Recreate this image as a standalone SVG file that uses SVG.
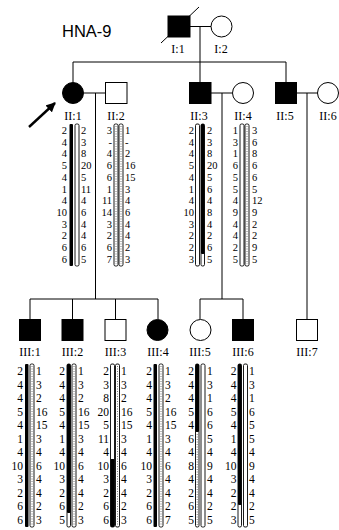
<svg xmlns="http://www.w3.org/2000/svg" width="339" height="530" viewBox="0 0 339 530">
<style>
.ln{stroke:#000;stroke-width:1;fill:none}
.aff{fill:#000;stroke:#000;stroke-width:1}
.un{fill:#fff;stroke:#000;stroke-width:1}
.lb{font-family:"Liberation Serif",serif;font-size:12px;text-anchor:middle;fill:#000}
.n{font-family:"Liberation Serif",serif;font-size:10.5px;fill:#000}
.m{font-family:"Liberation Serif",serif;font-size:11.5px;fill:#000}
.e{text-anchor:end}
.s{text-anchor:start}
.blk{fill:#000}
.wht{fill:#fff;stroke:#000;stroke-width:0.9}
.dot{stroke:#777;stroke-width:1;stroke-dasharray:1 1.5;fill:none}
.ttl{font-family:"Liberation Sans",Arial,sans-serif;font-size:16.5px;fill:#000}
</style>
<defs>
<marker id="ah" viewBox="0 0 10 10" refX="9" refY="5" markerWidth="4" markerHeight="4" orient="auto" markerUnits="strokeWidth"><path d="M0,0 L10,5 L0,10 z" fill="#000"/></marker>
</defs>
<text class="ttl" x="62" y="37">HNA-9</text>
<g id="connectors">
<line class="ln" x1="190" y1="26.5" x2="211" y2="26.5"/>
<line class="ln" x1="200" y1="26.5" x2="200" y2="62"/>
<line class="ln" x1="73" y1="62" x2="286" y2="62"/>
<line class="ln" x1="73" y1="62" x2="73" y2="82"/>
<line class="ln" x1="200" y1="62" x2="200" y2="82"/>
<line class="ln" x1="286" y1="62" x2="286" y2="82"/>
<line class="ln" x1="84" y1="93" x2="105" y2="93"/>
<line class="ln" x1="95.5" y1="93" x2="95.5" y2="299"/>
<line class="ln" x1="211" y1="93" x2="232" y2="93"/>
<line class="ln" x1="222" y1="93" x2="222" y2="299"/>
<line class="ln" x1="297" y1="93" x2="318" y2="93"/>
<line class="ln" x1="307" y1="93" x2="307" y2="319"/>
<line class="ln" x1="30" y1="299" x2="158" y2="299"/>
<line class="ln" x1="30" y1="299" x2="30" y2="319"/>
<line class="ln" x1="72.5" y1="299" x2="72.5" y2="319"/>
<line class="ln" x1="115.5" y1="299" x2="115.5" y2="319"/>
<line class="ln" x1="158" y1="299" x2="158" y2="319"/>
<line class="ln" x1="200" y1="299" x2="243" y2="299"/>
<line class="ln" x1="200" y1="299" x2="200" y2="319"/>
<line class="ln" x1="243" y1="299" x2="243" y2="319"/>
<line x1="29" y1="127" x2="55" y2="103" stroke="#000" stroke-width="2.4" marker-end="url(#ah)"/>
</g>
<g id="I1">
<rect class="aff" x="168" y="16" width="22" height="21"/>
<line class="ln" x1="161" y1="43" x2="199" y2="7"/>
<text class="lb" x="178" y="53">I:1</text>
</g>
<g id="I2">
<circle class="un" cx="221.5" cy="26.5" r="10.5"/>
<text class="lb" x="221" y="53">I:2</text>
</g>
<g id="II1">
<circle class="aff" cx="73" cy="93" r="10.5"/>
<text class="lb" x="73" y="120">II:1</text>
<rect class="blk" x="69.5" y="124" width="3.5" height="142" rx="1"/>
<rect class="wht" x="75" y="124" width="4" height="142" rx="1.5"/>
<text class="n e"><tspan x="67" y="134">2</tspan><tspan x="67" y="145.7">4</tspan><tspan x="67" y="157.4">4</tspan><tspan x="67" y="169.1">5</tspan><tspan x="67" y="180.8">4</tspan><tspan x="67" y="192.5">1</tspan><tspan x="67" y="204.2">4</tspan><tspan x="67" y="215.9">10</tspan><tspan x="67" y="227.6">3</tspan><tspan x="67" y="239.3">2</tspan><tspan x="67" y="251">6</tspan><tspan x="67" y="262.7">6</tspan></text>
<text class="n s"><tspan x="81" y="134">2</tspan><tspan x="81" y="145.7">3</tspan><tspan x="81" y="157.4">8</tspan><tspan x="81" y="169.1">20</tspan><tspan x="81" y="180.8">5</tspan><tspan x="81" y="192.5">11</tspan><tspan x="81" y="204.2">4</tspan><tspan x="81" y="215.9">6</tspan><tspan x="81" y="227.6">4</tspan><tspan x="81" y="239.3">4</tspan><tspan x="81" y="251">6</tspan><tspan x="81" y="262.7">5</tspan></text>
</g>
<g id="II2">
<rect class="un" x="105.5" y="82.5" width="21.5" height="21"/>
<text class="lb" x="116" y="120">II:2</text>
<rect class="wht" x="114" y="124" width="4" height="142" rx="1.5"/>
<rect class="wht" x="119" y="124" width="4" height="142" rx="1.5"/>
<line class="dot" x1="116" y1="126" x2="116" y2="264"/>
<line class="dot" x1="121" y1="126" x2="121" y2="264"/>
<text class="n e"><tspan x="112" y="134">3</tspan><tspan x="112" y="145.7">-</tspan><tspan x="112" y="157.4">4</tspan><tspan x="112" y="169.1">6</tspan><tspan x="112" y="180.8">6</tspan><tspan x="112" y="192.5">1</tspan><tspan x="112" y="204.2">11</tspan><tspan x="112" y="215.9">14</tspan><tspan x="112" y="227.6">3</tspan><tspan x="112" y="239.3">2</tspan><tspan x="112" y="251">6</tspan><tspan x="112" y="262.7">7</tspan></text>
<text class="n s"><tspan x="125" y="134">1</tspan><tspan x="125" y="145.7">-</tspan><tspan x="125" y="157.4">2</tspan><tspan x="125" y="169.1">16</tspan><tspan x="125" y="180.8">15</tspan><tspan x="125" y="192.5">3</tspan><tspan x="125" y="204.2">4</tspan><tspan x="125" y="215.9">6</tspan><tspan x="125" y="227.6">4</tspan><tspan x="125" y="239.3">4</tspan><tspan x="125" y="251">2</tspan><tspan x="125" y="262.7">3</tspan></text>
</g>
<g id="II3">
<rect class="aff" x="189.5" y="82.5" width="21.5" height="21"/>
<text class="lb" x="199" y="120">II:3</text>
<rect class="wht" x="195.5" y="124" width="4" height="142" rx="1.5"/>
<rect class="wht" x="201" y="124" width="3.5" height="142" rx="1.5"/>
<rect class="blk" x="201" y="124" width="3.5" height="130" rx="1"/>
<text class="n e"><tspan x="194" y="134">2</tspan><tspan x="194" y="145.7">4</tspan><tspan x="194" y="157.4">4</tspan><tspan x="194" y="169.1">5</tspan><tspan x="194" y="180.8">4</tspan><tspan x="194" y="192.5">1</tspan><tspan x="194" y="204.2">4</tspan><tspan x="194" y="215.9">10</tspan><tspan x="194" y="227.6">3</tspan><tspan x="194" y="239.3">2</tspan><tspan x="194" y="251">2</tspan><tspan x="194" y="262.7">3</tspan></text>
<text class="n s"><tspan x="207" y="134">2</tspan><tspan x="207" y="145.7">3</tspan><tspan x="207" y="157.4">8</tspan><tspan x="207" y="169.1">20</tspan><tspan x="207" y="180.8">5</tspan><tspan x="207" y="192.5">6</tspan><tspan x="207" y="204.2">4</tspan><tspan x="207" y="215.9">8</tspan><tspan x="207" y="227.6">4</tspan><tspan x="207" y="239.3">2</tspan><tspan x="207" y="251">6</tspan><tspan x="207" y="262.7">5</tspan></text>
</g>
<g id="II4">
<circle class="un" cx="243" cy="93" r="10.5"/>
<text class="lb" x="243" y="120">II:4</text>
<rect class="wht" x="240" y="124" width="4" height="142" rx="1.5"/>
<rect class="wht" x="245" y="124" width="4" height="142" rx="1.5"/>
<line class="dot" x1="247" y1="126" x2="247" y2="264"/>
<text class="n e"><tspan x="238" y="134">1</tspan><tspan x="238" y="145.7">3</tspan><tspan x="238" y="157.4">1</tspan><tspan x="238" y="169.1">6</tspan><tspan x="238" y="180.8">5</tspan><tspan x="238" y="192.5">5</tspan><tspan x="238" y="204.2">4</tspan><tspan x="238" y="215.9">9</tspan><tspan x="238" y="227.6">4</tspan><tspan x="238" y="239.3">4</tspan><tspan x="238" y="251">2</tspan><tspan x="238" y="262.7">5</tspan></text>
<text class="n s"><tspan x="252" y="134">3</tspan><tspan x="252" y="145.7">6</tspan><tspan x="252" y="157.4">8</tspan><tspan x="252" y="169.1">6</tspan><tspan x="252" y="180.8">6</tspan><tspan x="252" y="192.5">5</tspan><tspan x="252" y="204.2">12</tspan><tspan x="252" y="215.9">9</tspan><tspan x="252" y="227.6">2</tspan><tspan x="252" y="239.3">2</tspan><tspan x="252" y="251">9</tspan><tspan x="252" y="262.7">5</tspan></text>
</g>
<g id="II5">
<rect class="aff" x="275.5" y="82.5" width="21" height="21"/>
<text class="lb" x="285" y="120">II:5</text>
</g>
<g id="II6">
<circle class="un" cx="328" cy="93" r="10.5"/>
<text class="lb" x="328" y="120">II:6</text>
</g>
<g id="III1">
<rect class="aff" x="19.5" y="319.5" width="21" height="21"/>
<text class="lb" x="30" y="356">III:1</text>
<rect class="blk" x="25" y="364" width="3.5" height="163" rx="1"/>
<rect class="wht" x="30" y="364" width="4" height="163" rx="1.5"/>
<line class="dot" x1="32" y1="366" x2="32" y2="525"/>
<text class="m e"><tspan x="23" y="375">2</tspan><tspan x="23" y="388.5">4</tspan><tspan x="23" y="402">4</tspan><tspan x="23" y="415.5">5</tspan><tspan x="23" y="429">4</tspan><tspan x="23" y="442.5">1</tspan><tspan x="23" y="456">4</tspan><tspan x="23" y="469.5">10</tspan><tspan x="23" y="483">3</tspan><tspan x="23" y="496.5">2</tspan><tspan x="23" y="510">6</tspan><tspan x="23" y="523.5">6</tspan></text>
<text class="m s"><tspan x="36" y="375">1</tspan><tspan x="36" y="388.5">3</tspan><tspan x="36" y="402">2</tspan><tspan x="36" y="415.5">16</tspan><tspan x="36" y="429">15</tspan><tspan x="36" y="442.5">3</tspan><tspan x="36" y="456">4</tspan><tspan x="36" y="469.5">6</tspan><tspan x="36" y="483">4</tspan><tspan x="36" y="496.5">4</tspan><tspan x="36" y="510">2</tspan><tspan x="36" y="523.5">3</tspan></text>
</g>
<g id="III2">
<rect class="aff" x="62" y="319.5" width="21" height="21"/>
<text class="lb" x="72.5" y="356">III:2</text>
<rect class="wht" x="67" y="364" width="3.5" height="163" rx="1.5"/>
<rect class="blk" x="67" y="364" width="3.5" height="149" rx="1"/>
<rect class="wht" x="72" y="364" width="4" height="163" rx="1.5"/>
<line class="dot" x1="74" y1="366" x2="74" y2="525"/>
<text class="m e"><tspan x="65" y="375">2</tspan><tspan x="65" y="388.5">4</tspan><tspan x="65" y="402">4</tspan><tspan x="65" y="415.5">5</tspan><tspan x="65" y="429">4</tspan><tspan x="65" y="442.5">1</tspan><tspan x="65" y="456">4</tspan><tspan x="65" y="469.5">10</tspan><tspan x="65" y="483">3</tspan><tspan x="65" y="496.5">2</tspan><tspan x="65" y="510">6</tspan><tspan x="65" y="523.5">5</tspan></text>
<text class="m s"><tspan x="78" y="375">1</tspan><tspan x="78" y="388.5">3</tspan><tspan x="78" y="402">2</tspan><tspan x="78" y="415.5">16</tspan><tspan x="78" y="429">15</tspan><tspan x="78" y="442.5">3</tspan><tspan x="78" y="456">4</tspan><tspan x="78" y="469.5">6</tspan><tspan x="78" y="483">4</tspan><tspan x="78" y="496.5">4</tspan><tspan x="78" y="510">2</tspan><tspan x="78" y="523.5">3</tspan></text>
</g>
<g id="III3">
<rect class="un" x="105" y="319.5" width="21" height="21"/>
<text class="lb" x="115.5" y="356">III:3</text>
<rect class="wht" x="110.5" y="364" width="4" height="163" rx="1.5"/>
<rect class="blk" x="110.5" y="459" width="4" height="68" rx="1"/>
<rect class="wht" x="115.5" y="364" width="4" height="163" rx="1.5"/>
<line class="dot" x1="117.5" y1="366" x2="117.5" y2="525"/>
<text class="m e"><tspan x="109" y="375">2</tspan><tspan x="109" y="388.5">3</tspan><tspan x="109" y="402">8</tspan><tspan x="109" y="415.5">20</tspan><tspan x="109" y="429">5</tspan><tspan x="109" y="442.5">11</tspan><tspan x="109" y="456">4</tspan><tspan x="109" y="469.5">10</tspan><tspan x="109" y="483">3</tspan><tspan x="109" y="496.5">2</tspan><tspan x="109" y="510">6</tspan><tspan x="109" y="523.5">6</tspan></text>
<text class="m s"><tspan x="121" y="375">1</tspan><tspan x="121" y="388.5">3</tspan><tspan x="121" y="402">2</tspan><tspan x="121" y="415.5">16</tspan><tspan x="121" y="429">15</tspan><tspan x="121" y="442.5">3</tspan><tspan x="121" y="456">4</tspan><tspan x="121" y="469.5">6</tspan><tspan x="121" y="483">4</tspan><tspan x="121" y="496.5">4</tspan><tspan x="121" y="510">2</tspan><tspan x="121" y="523.5">3</tspan></text>
</g>
<g id="III4">
<circle class="aff" cx="157.5" cy="330" r="10.5"/>
<text class="lb" x="158" y="356">III:4</text>
<rect class="blk" x="153.5" y="364" width="3.5" height="163" rx="1"/>
<rect class="wht" x="159" y="364" width="4" height="163" rx="1.5"/>
<line class="dot" x1="161" y1="366" x2="161" y2="525"/>
<text class="m e"><tspan x="152" y="375">2</tspan><tspan x="152" y="388.5">4</tspan><tspan x="152" y="402">4</tspan><tspan x="152" y="415.5">5</tspan><tspan x="152" y="429">4</tspan><tspan x="152" y="442.5">1</tspan><tspan x="152" y="456">4</tspan><tspan x="152" y="469.5">10</tspan><tspan x="152" y="483">3</tspan><tspan x="152" y="496.5">2</tspan><tspan x="152" y="510">6</tspan><tspan x="152" y="523.5">6</tspan></text>
<text class="m s"><tspan x="165" y="375">1</tspan><tspan x="165" y="388.5">3</tspan><tspan x="165" y="402">2</tspan><tspan x="165" y="415.5">16</tspan><tspan x="165" y="429">15</tspan><tspan x="165" y="442.5">3</tspan><tspan x="165" y="456">4</tspan><tspan x="165" y="469.5">6</tspan><tspan x="165" y="483">4</tspan><tspan x="165" y="496.5">4</tspan><tspan x="165" y="510">2</tspan><tspan x="165" y="523.5">7</tspan></text>
</g>
<g id="III5">
<circle class="un" cx="200.5" cy="330" r="10.5"/>
<text class="lb" x="200" y="356">III:5</text>
<rect class="wht" x="195.5" y="364" width="3.5" height="163" rx="1.5"/>
<rect class="blk" x="195.5" y="364" width="3.5" height="68" rx="1"/>
<rect class="wht" x="201" y="364" width="4" height="163" rx="1.5"/>
<line class="dot" x1="197.2" y1="434" x2="197.2" y2="525"/>
<text class="m e"><tspan x="194" y="375">2</tspan><tspan x="194" y="388.5">4</tspan><tspan x="194" y="402">4</tspan><tspan x="194" y="415.5">5</tspan><tspan x="194" y="429">4</tspan><tspan x="194" y="442.5">6</tspan><tspan x="194" y="456">4</tspan><tspan x="194" y="469.5">8</tspan><tspan x="194" y="483">4</tspan><tspan x="194" y="496.5">2</tspan><tspan x="194" y="510">6</tspan><tspan x="194" y="523.5">5</tspan></text>
<text class="m s"><tspan x="207" y="375">1</tspan><tspan x="207" y="388.5">3</tspan><tspan x="207" y="402">1</tspan><tspan x="207" y="415.5">6</tspan><tspan x="207" y="429">6</tspan><tspan x="207" y="442.5">5</tspan><tspan x="207" y="456">4</tspan><tspan x="207" y="469.5">9</tspan><tspan x="207" y="483">4</tspan><tspan x="207" y="496.5">4</tspan><tspan x="207" y="510">2</tspan><tspan x="207" y="523.5">5</tspan></text>
</g>
<g id="III6">
<rect class="aff" x="232.5" y="319.5" width="21" height="21"/>
<text class="lb" x="243" y="356">III:6</text>
<rect class="wht" x="238" y="364" width="3.5" height="163" rx="1.5"/>
<rect class="blk" x="238" y="364" width="3.5" height="141" rx="1"/>
<rect class="wht" x="243.5" y="364" width="4" height="163" rx="1.5"/>
<text class="m e"><tspan x="236.5" y="375">2</tspan><tspan x="236.5" y="388.5">4</tspan><tspan x="236.5" y="402">4</tspan><tspan x="236.5" y="415.5">5</tspan><tspan x="236.5" y="429">4</tspan><tspan x="236.5" y="442.5">1</tspan><tspan x="236.5" y="456">4</tspan><tspan x="236.5" y="469.5">10</tspan><tspan x="236.5" y="483">3</tspan><tspan x="236.5" y="496.5">2</tspan><tspan x="236.5" y="510">2</tspan><tspan x="236.5" y="523.5">3</tspan></text>
<text class="m s"><tspan x="249" y="375">1</tspan><tspan x="249" y="388.5">3</tspan><tspan x="249" y="402">1</tspan><tspan x="249" y="415.5">6</tspan><tspan x="249" y="429">5</tspan><tspan x="249" y="442.5">5</tspan><tspan x="249" y="456">4</tspan><tspan x="249" y="469.5">9</tspan><tspan x="249" y="483">4</tspan><tspan x="249" y="496.5">4</tspan><tspan x="249" y="510">2</tspan><tspan x="249" y="523.5">5</tspan></text>
</g>
<g id="III7">
<rect class="un" x="296.5" y="319.5" width="21" height="21"/>
<text class="lb" x="307" y="356">III:7</text>
</g>
</svg>
